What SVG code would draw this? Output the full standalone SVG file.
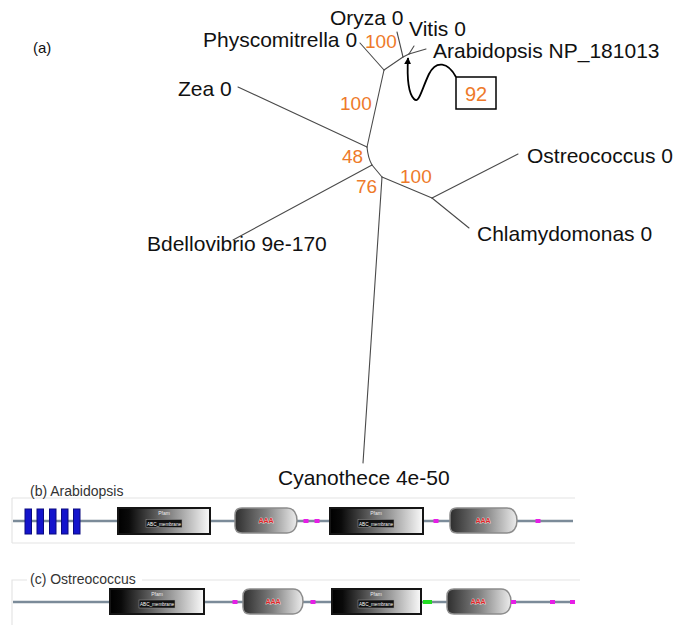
<svg xmlns="http://www.w3.org/2000/svg" width="685" height="625" viewBox="0 0 685 625">
<style>
.lbl{font-family:"Liberation Sans",Arial,sans-serif;font-size:21px;fill:#111}
.bs{font-family:"Liberation Sans",Arial,sans-serif;font-size:19px;fill:#EE7A2A}
.pl{font-family:"Liberation Sans",Arial,sans-serif;font-size:14px;fill:#333}
.br{stroke:#4a4a4a;stroke-width:1.1;fill:none;stroke-linecap:round}
.bb{stroke:#7b8b99;stroke-width:2.6}
.frm{stroke:#e4e4e4;stroke-width:1.2;fill:none}
.abc{fill:url(#gAbc);stroke:#151515;stroke-width:2}
.aaa{fill:url(#gAaa);stroke:#8c8c8c;stroke-width:1.5}
.tm{fill:#1414cc;stroke:#0a0a80;stroke-width:1}
.dot{fill:#e61ee6}
.gdot{fill:#22dd22}
.pf{font-family:"Liberation Sans",Arial,sans-serif;font-size:5px;fill:#eee;text-anchor:middle}
.tb{fill:#111;stroke:#999;stroke-width:0.5}
.an{font-family:"Liberation Sans",Arial,sans-serif;font-size:6px;fill:#fff;text-anchor:middle}
.at{font-family:"Liberation Sans",Arial,sans-serif;font-size:7px;font-weight:bold;fill:#e02424;stroke:#fff;stroke-width:0.6;paint-order:stroke;text-anchor:middle}
</style>
<defs>
<linearGradient id="gAbc" x1="0" y1="0" x2="1" y2="0">
<stop offset="0" stop-color="#000"/><stop offset="0.12" stop-color="#0a0a0a"/><stop offset="1" stop-color="#fafafa"/>
</linearGradient>
<linearGradient id="gAaa" x1="0" y1="0" x2="1" y2="0">
<stop offset="0" stop-color="#2e2e2e"/><stop offset="0.5" stop-color="#808080"/><stop offset="1" stop-color="#ececec"/>
</linearGradient>
<marker id="arr" viewBox="0 0 10 10" refX="9" refY="5" markerWidth="7" markerHeight="7" orient="auto" markerUnits="userSpaceOnUse">
<path d="M0,0 L10,5 L0,10 Z" fill="#000"/>
</marker>
</defs>
<rect width="685" height="625" fill="#fff"/>

<text class="pl" x="33" y="53" style="font-size:15px;fill:#111">(a)</text>

<g id="connectors">
<path class="br" d="M384,70 L360,43"/>
<path class="br" d="M384,70 L403,57"/>
<path class="br" d="M403,57 L397,32"/>
<path class="br" d="M403,57 L409,54"/>
<path class="br" d="M409,54 L414,46"/>
<path class="br" d="M409,54 L426,49"/>
<path class="br" d="M384,70 L367,147"/>
<path class="br" d="M238,87 L367,147"/>
<path class="br" d="M367,147 Q368,158 372,165"/>
<path class="br" d="M372,165 L233,240"/>
<path class="br" d="M372,165 L382,177"/>
<path class="br" d="M382,177 L363,463"/>
<path class="br" d="M382,177 L432,198"/>
<path class="br" d="M432,198 L518,154"/>
<path class="br" d="M432,198 L469,228"/>
<path d="M456,77 C448,62 436,60 429,74 C421,91 419,104 414,99 C408,93 407,76 408,58" fill="none" stroke="#000" stroke-width="1.8" marker-end="url(#arr)"/>
</g>

<g id="leaf-physcomitrella"><text class="lbl" x="203" y="47">Physcomitrella 0</text></g>
<g id="leaf-oryza"><text class="lbl" x="330" y="25">Oryza 0</text></g>
<g id="leaf-vitis"><text class="lbl" x="409" y="36">Vitis 0</text></g>
<g id="leaf-arabidopsis"><text class="lbl" x="433" y="58">Arabidopsis NP_181013</text></g>
<g id="leaf-zea"><text class="lbl" x="178" y="96">Zea 0</text></g>
<g id="leaf-ostreococcus"><text class="lbl" x="527" y="163">Ostreococcus 0</text></g>
<g id="leaf-chlamydomonas"><text class="lbl" x="477" y="241">Chlamydomonas 0</text></g>
<g id="leaf-bdellovibrio"><text class="lbl" x="147" y="251">Bdellovibrio 9e-170</text></g>
<g id="leaf-cyanothece"><text class="lbl" x="278" y="485">Cyanothece 4e-50</text></g>

<g id="support-labels">
<text class="bs" x="365" y="48">100</text>
<text class="bs" x="340" y="110">100</text>
<text class="bs" x="342" y="163">48</text>
<text class="bs" x="356" y="193">76</text>
<text class="bs" x="400" y="183">100</text>
</g>

<g id="box-92">
<rect x="456" y="77" width="40" height="32" fill="#fff" stroke="#000" stroke-width="1.5"/>
<text class="bs" x="476" y="101" text-anchor="middle" style="font-size:20px">92</text>
</g>

<g id="panel-b">
<path class="frm" d="M12,498 H575 M12,543 H575 M12,498 V543"/>
<text class="pl" x="30" y="496">(b) Arabidopsis</text>
<line class="bb" x1="13" y1="521" x2="573" y2="521"/>
<rect class="tm" x="25" y="509" width="6.5" height="25"/>
<rect class="tm" x="37" y="509" width="6.5" height="25"/>
<rect class="tm" x="49.5" y="509" width="6.5" height="25"/>
<rect class="tm" x="61.5" y="509" width="6.5" height="25"/>
<rect class="tm" x="73.5" y="509" width="6.5" height="25"/>
<rect class="abc" x="118" y="508" width="92" height="26"/>
<text class="pf" x="164" y="515">Pfam</text>
<rect class="tb" x="146" y="519.5" width="36" height="8"/>
<text class="an" x="164" y="525.5" textLength="34" lengthAdjust="spacingAndGlyphs">ABC_membrane</text>
<path class="aaa" d="M242,508 H287 C294,508 297,514 297,520.5 C297,527 294,533 287,533 H242 Q235,533 235,526 V515 Q235,508 242,508 Z"/>
<text class="at" x="266" y="523">AAA</text>
<rect class="dot" x="303.5" y="519" width="5" height="4"/>
<rect class="dot" x="314.5" y="519" width="5" height="4"/>
<rect class="abc" x="330" y="508" width="93" height="26"/>
<text class="pf" x="376" y="515">Pfam</text>
<rect class="tb" x="358" y="519.5" width="36" height="8"/>
<text class="an" x="376" y="525.5" textLength="34" lengthAdjust="spacingAndGlyphs">ABC_membrane</text>
<rect class="dot" x="433.5" y="519" width="5" height="4"/>
<path class="aaa" d="M457,508 H507 C514,508 517,514 517,520.5 C517,527 514,533 507,533 H457 Q450,533 450,526 V515 Q450,508 457,508 Z"/>
<text class="at" x="483" y="523">AAA</text>
<rect class="dot" x="535.5" y="519" width="5" height="4"/>
</g>

<g id="panel-c">
<path class="frm" d="M12,625 V580 H27 M142,580 H580"/>
<text class="pl" x="30" y="584">(c) Ostreococcus</text>
<line class="bb" x1="13" y1="602" x2="573" y2="602"/>
<rect class="abc" x="110" y="589" width="94" height="25"/>
<text class="pf" x="157" y="596">Pfam</text>
<rect class="tb" x="139" y="600" width="36" height="8"/>
<text class="an" x="157" y="606" textLength="34" lengthAdjust="spacingAndGlyphs">ABC_membrane</text>
<rect class="dot" x="232.5" y="600" width="5" height="4"/>
<path class="aaa" d="M250,589 H293 C300,589 303,595 303,601.5 C303,608 300,614 293,614 H250 Q243,614 243,607 V596 Q243,589 250,589 Z"/>
<text class="at" x="273" y="604">AAA</text>
<rect class="dot" x="310.5" y="600" width="5" height="4"/>
<rect class="abc" x="332" y="589" width="89" height="25"/>
<text class="pf" x="376" y="596">Pfam</text>
<rect class="tb" x="358" y="600" width="36" height="8"/>
<text class="an" x="376" y="606" textLength="34" lengthAdjust="spacingAndGlyphs">ABC_membrane</text>
<rect class="gdot" x="423" y="600" width="9" height="4"/>
<path class="aaa" d="M454,589 H501 C508,589 511,595 511,601.5 C511,608 508,614 501,614 H454 Q447,614 447,607 V596 Q447,589 454,589 Z"/>
<text class="at" x="478" y="604">AAA</text>
<rect class="dot" x="511" y="600" width="5" height="4"/>
<rect class="dot" x="550" y="600" width="5" height="4"/>
<rect class="dot" x="570" y="600" width="5" height="4"/>
</g>
</svg>
